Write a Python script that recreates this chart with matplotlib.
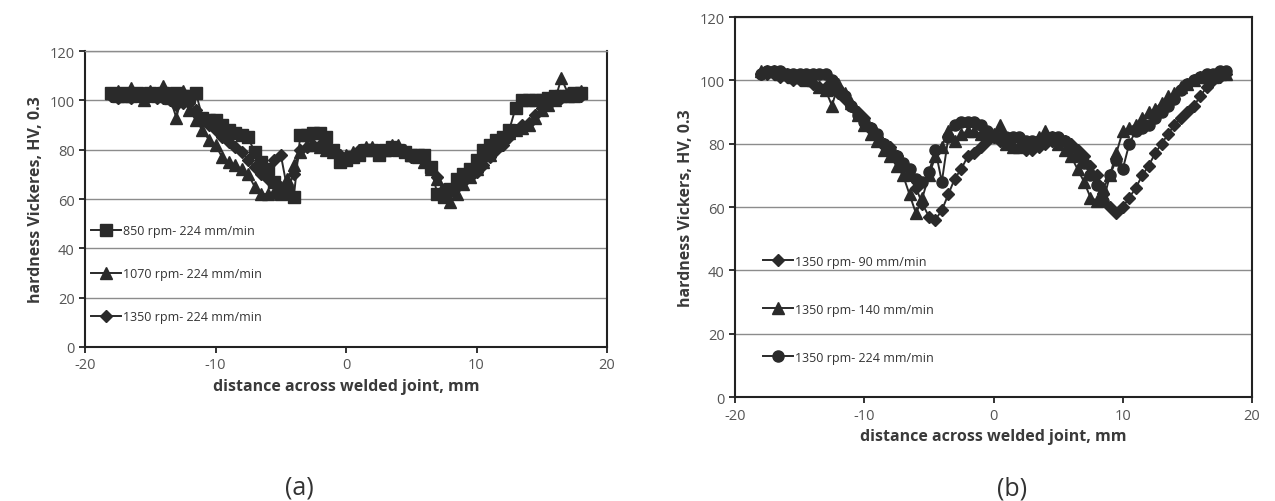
import matplotlib
matplotlib.use("Agg")
import matplotlib.pyplot as plt

plt.rcParams['font.family'] = ['Open Sans', 'DejaVu Sans']
plt.rcParams['axes.unicode_minus'] = False

# (a) rotation speed series at 224 mm/min
xa_850 = [-18, -17.5, -17, -16.5, -16, -15.5, -15, -14.5, -14, -13.5, -13, -12.5, -12, -11.5, -11, -10.5, -10, -9.5, -9, -8.5, -8, -7.5, -7, -6.5, -6, -5.5, -5, -4.5, -4, -3.5, -3, -2.5, -2, -1.5, -1, -0.5, 0, 0.5, 1, 1.5, 2, 2.5, 3, 3.5, 4, 4.5, 5, 5.5, 6, 6.5, 7, 7.5, 8, 8.5, 9, 9.5, 10, 10.5, 11, 11.5, 12, 12.5, 13, 13.5, 14, 14.5, 15, 15.5, 16, 16.5, 17, 17.5, 18]
ya_850 = [103, 102, 103, 102, 103, 102, 103, 102, 103, 102, 103, 102, 102, 103, 93, 92, 92, 90, 88, 87, 86, 85, 79, 75, 72, 67, 62, 63, 61, 86, 86, 87, 87, 85, 80, 75, 76, 77, 78, 80, 80, 78, 80, 81, 80, 79, 78, 78, 78, 73, 62, 61, 64, 68, 70, 72, 76, 80, 82, 84, 85, 88, 97, 100, 100, 100, 100, 101, 102, 102, 102, 103, 103]
xa_1070 = [-18, -17.5, -17, -16.5, -16, -15.5, -15, -14.5, -14, -13.5, -13, -12.5, -12, -11.5, -11, -10.5, -10, -9.5, -9, -8.5, -8, -7.5, -7, -6.5, -6, -5.5, -5, -4.5, -4, -3.5, -3, -2.5, -2, -1.5, -1, -0.5, 0, 0.5, 1, 1.5, 2, 2.5, 3, 3.5, 4, 4.5, 5, 5.5, 6, 6.5, 7, 7.5, 8, 8.5, 9, 9.5, 10, 10.5, 11, 11.5, 12, 12.5, 13, 13.5, 14, 14.5, 15, 15.5, 16, 16.5, 17, 17.5, 18]
ya_1070 = [103, 104, 102, 105, 103, 100, 104, 103, 106, 101, 93, 104, 96, 92, 88, 84, 82, 77, 75, 74, 72, 70, 65, 62, 62, 63, 65, 68, 74, 79, 82, 82, 81, 80, 79, 78, 78, 79, 80, 81, 81, 80, 80, 82, 82, 80, 78, 77, 75, 72, 68, 63, 59, 62, 66, 69, 72, 75, 78, 82, 85, 87, 88, 89, 90, 93, 96, 98, 100, 109, 103, 102, 104]
xa_1350 = [-18, -17.5, -17, -16.5, -16, -15.5, -15, -14.5, -14, -13.5, -13, -12.5, -12, -11.5, -11, -10.5, -10, -9.5, -9, -8.5, -8, -7.5, -7, -6.5, -6, -5.5, -5, -4.5, -4, -3.5, -3, -2.5, -2, -1.5, -1, -0.5, 0, 0.5, 1, 1.5, 2, 2.5, 3, 3.5, 4, 4.5, 5, 5.5, 6, 6.5, 7, 7.5, 8, 8.5, 9, 9.5, 10, 10.5, 11, 11.5, 12, 12.5, 13, 13.5, 14, 14.5, 15, 15.5, 16, 16.5, 17, 17.5, 18]
ya_1350 = [102, 101, 102, 101, 102, 101, 102, 101, 101, 100, 98, 99, 99, 96, 92, 90, 88, 85, 83, 81, 79, 76, 73, 70, 68, 76, 78, 64, 70, 80, 81, 82, 82, 81, 80, 78, 77, 78, 80, 80, 80, 80, 80, 80, 80, 79, 77, 77, 76, 73, 69, 64, 63, 65, 67, 69, 71, 74, 77, 80, 82, 85, 88, 90, 91, 94, 97, 98, 100, 101, 102, 102, 102]

# (b) travel speed series at 1350 rpm
xb_90 = [-18, -17.5, -17, -16.5, -16, -15.5, -15, -14.5, -14, -13.5, -13, -12.5, -12, -11.5, -11, -10.5, -10, -9.5, -9, -8.5, -8, -7.5, -7, -6.5, -6, -5.5, -5, -4.5, -4, -3.5, -3, -2.5, -2, -1.5, -1, -0.5, 0, 0.5, 1, 1.5, 2, 2.5, 3, 3.5, 4, 4.5, 5, 5.5, 6, 6.5, 7, 7.5, 8, 8.5, 9, 9.5, 10, 10.5, 11, 11.5, 12, 12.5, 13, 13.5, 14, 14.5, 15, 15.5, 16, 16.5, 17, 17.5, 18]
yb_90 = [102, 102, 102, 101, 101, 100, 100, 100, 99, 98, 98, 97, 96, 94, 92, 90, 88, 85, 82, 80, 79, 76, 73, 70, 66, 61, 57, 56, 59, 64, 69, 72, 76, 77, 79, 81, 82, 81, 80, 79, 79, 78, 78, 79, 80, 81, 81, 81, 80, 78, 76, 73, 70, 64, 60, 58, 60, 63, 66, 70, 73, 77, 80, 83, 86, 88, 90, 92, 95, 98, 100, 101, 102]
xb_140 = [-18, -17.5, -17, -16.5, -16, -15.5, -15, -14.5, -14, -13.5, -13, -12.5, -12, -11.5, -11, -10.5, -10, -9.5, -9, -8.5, -8, -7.5, -7, -6.5, -6, -5.5, -5, -4.5, -4, -3.5, -3, -2.5, -2, -1.5, -1, -0.5, 0, 0.5, 1, 1.5, 2, 2.5, 3, 3.5, 4, 4.5, 5, 5.5, 6, 6.5, 7, 7.5, 8, 8.5, 9, 9.5, 10, 10.5, 11, 11.5, 12, 12.5, 13, 13.5, 14, 14.5, 15, 15.5, 16, 16.5, 17, 17.5, 18]
yb_140 = [103, 103, 103, 102, 102, 101, 101, 100, 100, 98, 97, 92, 99, 96, 93, 89, 86, 83, 81, 78, 76, 73, 70, 64, 58, 63, 70, 76, 79, 84, 81, 83, 84, 84, 83, 83, 83, 86, 80, 79, 79, 80, 80, 82, 84, 82, 80, 78, 76, 72, 68, 63, 62, 66, 70, 77, 84, 85, 86, 88, 90, 91, 93, 95, 96, 98, 99, 100, 101, 101, 101, 102, 102]
xb_224 = [-18, -17.5, -17, -16.5, -16, -15.5, -15, -14.5, -14, -13.5, -13, -12.5, -12, -11.5, -11, -10.5, -10, -9.5, -9, -8.5, -8, -7.5, -7, -6.5, -6, -5.5, -5, -4.5, -4, -3.5, -3, -2.5, -2, -1.5, -1, -0.5, 0, 0.5, 1, 1.5, 2, 2.5, 3, 3.5, 4, 4.5, 5, 5.5, 6, 6.5, 7, 7.5, 8, 8.5, 9, 9.5, 10, 10.5, 11, 11.5, 12, 12.5, 13, 13.5, 14, 14.5, 15, 15.5, 16, 16.5, 17, 17.5, 18]
yb_224 = [102, 103, 103, 103, 102, 102, 102, 102, 102, 102, 102, 100, 97, 95, 92, 89, 87, 85, 83, 80, 78, 76, 74, 72, 69, 68, 71, 78, 68, 82, 86, 87, 87, 87, 86, 84, 82, 82, 82, 82, 82, 81, 81, 81, 82, 82, 82, 81, 79, 76, 74, 70, 67, 62, 70, 75, 72, 80, 84, 85, 86, 88, 90, 92, 94, 97, 99, 100, 101, 102, 102, 103, 103]

labels_a = ['850 rpm- 224 mm/min', '1070 rpm- 224 mm/min', '1350 rpm- 224 mm/min']
labels_b = ['1350 rpm- 90 mm/min', '1350 rpm- 140 mm/min', '1350 rpm- 224 mm/min']

line_c = '#2a2a2a'
grid_c = '#8c8c8c'
tick_c = '#555555'
label_c = '#3a3a3a'

fig = plt.figure(figsize=(12.75, 5.02), dpi=100)
ax1 = fig.add_axes([0.0667, 0.307, 0.4094, 0.589])
ax2 = fig.add_axes([0.5765, 0.207, 0.4055, 0.757])


def style_axes(ax, ylabel):
    ax.set_xlim(-20, 20)
    ax.set_ylim(0, 120)
    ax.set_xticks([-20, -10, 0, 10, 20])
    ax.set_yticks(range(0, 121, 20))
    ax.grid(axis='y', color=grid_c, linewidth=1)
    ax.set_axisbelow(True)
    for s in ax.spines.values():
        s.set_color('#222222')
        s.set_linewidth(1.5)
    ax.tick_params(colors='#222222', labelcolor=tick_c, labelsize=10.5, direction='out', length=4, width=1.3)
    ax.set_xlabel('distance across welded joint, mm', fontsize=11.5, fontweight='bold', color=label_c, labelpad=4)
    ax.set_ylabel(ylabel, fontsize=11.5, fontweight='bold', color=label_c, labelpad=4)


style_axes(ax1, 'hardness Vickeres, HV, 0.3')
ax1.spines['top'].set_color(grid_c)
ax1.spines['top'].set_linewidth(1)
ax1.plot(xa_850, ya_850, marker='s', ms=8, color=line_c, lw=1.4, label=labels_a[0])
ax1.plot(xa_1070, ya_1070, marker='^', ms=9, color=line_c, lw=1.4, label=labels_a[1])
ax1.plot(xa_1350, ya_1350, marker='D', ms=6.5, color=line_c, lw=1.4, label=labels_a[2])
ax1.legend(loc='upper left', bbox_to_anchor=(0.012, 0.415), frameon=False, fontsize=9,
           labelspacing=2.4, handlelength=2.4, handletextpad=0.1, borderaxespad=0, borderpad=0,
           labelcolor='#333333')

style_axes(ax2, 'hardness Vickers, HV, 0.3')
ax2.plot(xb_90, yb_90, marker='D', ms=6.5, color=line_c, lw=1.4, label=labels_b[0])
ax2.plot(xb_140, yb_140, marker='^', ms=9, color=line_c, lw=1.4, label=labels_b[1])
ax2.plot(xb_224, yb_224, marker='o', ms=8, color=line_c, lw=1.4, label=labels_b[2])
ax2.legend(loc='upper left', bbox_to_anchor=(0.055, 0.375), frameon=False, fontsize=9,
           labelspacing=2.8, handlelength=2.4, handletextpad=0.1, borderaxespad=0, borderpad=0,
           labelcolor='#333333')

fig.text(0.235, 0.015, '(a)', fontsize=18, color='#333333', ha='center')
fig.text(0.794, 0.012, '(b)', fontsize=18, color='#333333', ha='center')

fig.savefig('out.png', dpi=100)
